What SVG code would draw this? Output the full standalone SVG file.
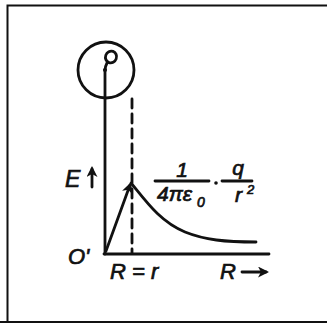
<svg xmlns="http://www.w3.org/2000/svg" width="327" height="323" viewBox="0 0 327 323">
<style>
.ln{stroke:#111;stroke-width:2.8;fill:none;stroke-linecap:round}
.t{font-family:"Liberation Sans",Arial,sans-serif;font-style:italic;fill:#111;stroke:#111;stroke-width:0.7}
</style>
<defs>
<marker id="ah" markerWidth="11" markerHeight="11" refX="8" refY="5.5" orient="auto" markerUnits="userSpaceOnUse">
<path d="M0,0 L11,5.5 L0,11 L3,5.5 Z" fill="#111"/>
</marker>
</defs>
<rect x="0" y="0" width="327" height="323" fill="#fff"/>
<path d="M7.5,323 V5.5 H327" fill="none" stroke="#111" stroke-width="2"/>
<line x1="0" y1="322" x2="327" y2="322" stroke="#111" stroke-width="2"/>
<g id="sphere">
<circle cx="106" cy="70" r="28" class="ln"/>
<ellipse cx="111" cy="57" rx="5.5" ry="6" transform="rotate(20 111 57)" class="ln" stroke-width="2.2"/>
<path d="M107,63 Q105,67 105,70" class="ln" stroke-width="2.2"/>
<circle cx="105" cy="70" r="2" fill="#111"/>
</g>
<g id="axes">
<line x1="105" y1="70" x2="105" y2="254" class="ln"/>
<line x1="104" y1="254" x2="269" y2="254" class="ln"/>
</g>
<g id="connectors">
<line x1="132" y1="99" x2="132" y2="253" class="ln" stroke-dasharray="9,6"/>
<line x1="106" y1="251" x2="130" y2="185" class="ln" marker-end="url(#ah)"/>
<path d="M131,183 C145,200 160,222 185,232 C205,240 225,242 256,242" class="ln"/>
</g>
<g id="labels">
<text x="65" y="187" class="t" font-size="23">E</text>
<line x1="92" y1="187" x2="92" y2="169" class="ln" marker-end="url(#ah)"/>
<text x="68" y="264" class="t" font-size="22">O'</text>
<text x="110" y="279" class="t" font-size="22">R = r</text>
<text x="220" y="279" class="t" font-size="22">R</text>
<line x1="242" y1="272" x2="266" y2="272" class="ln" stroke-width="3" marker-end="url(#ah)"/>
<text x="182" y="177" class="t" font-size="21" font-style="normal" text-anchor="middle">1</text>
<line x1="155" y1="181" x2="209" y2="181" class="ln" stroke-width="2.2"/>
<text x="157" y="201" class="t" font-size="21">4πε</text>
<text x="197" y="207" class="t" font-size="14" font-style="normal">0</text>
<circle cx="216" cy="183" r="1.8" fill="#111"/>
<line x1="222" y1="181" x2="252" y2="181" class="ln" stroke-width="2.2"/>
<text x="238" y="175" class="t" font-size="21" text-anchor="middle">q</text>
<text x="235" y="202" class="t" font-size="21">r</text>
<text x="247" y="194" class="t" font-size="13">2</text>
</g>
</svg>
